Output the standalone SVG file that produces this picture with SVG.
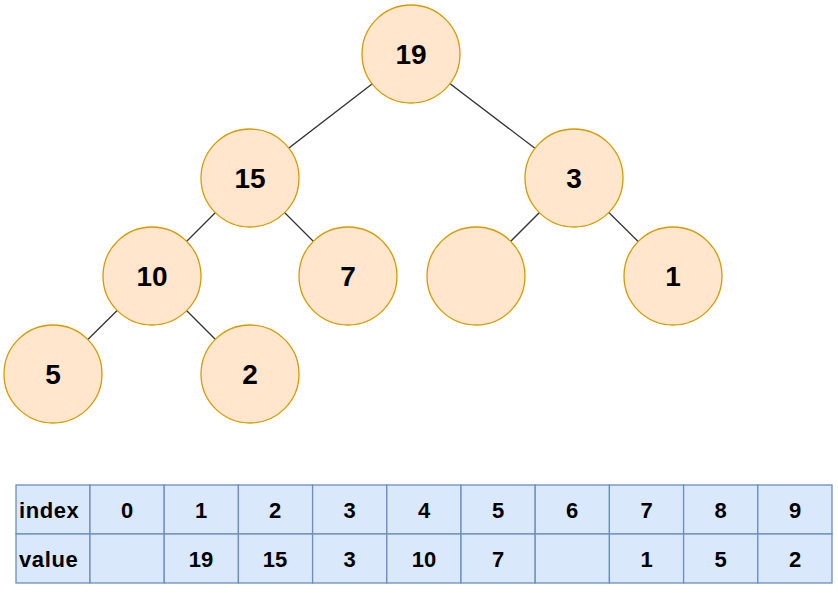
<svg xmlns="http://www.w3.org/2000/svg" width="838" height="605" viewBox="0 0 838 605">
<style>
.n circle{fill:#ffe6cc;stroke:#d79b00;stroke-width:1.3}
.n text{font-family:"Liberation Sans",Arial,sans-serif;font-weight:bold;font-size:28px;fill:#000;text-anchor:middle}
.e line{stroke:#333;stroke-width:1.3}
.t rect{fill:#dae8fc;stroke:#6c8ebf;stroke-width:1.3}
.t text{font-family:"Liberation Sans",Arial,sans-serif;font-weight:bold;font-size:22px;fill:#000;text-anchor:middle}
.t text.l{text-anchor:start;letter-spacing:0.6px}
</style>
<g id="connectors" class="e">
<line x1="411" y1="54" x2="250" y2="178"/>
<line x1="411" y1="54" x2="574" y2="178"/>
<line x1="250" y1="178" x2="152" y2="276"/>
<line x1="250" y1="178" x2="348" y2="276"/>
<line x1="574" y1="178" x2="476" y2="276"/>
<line x1="574" y1="178" x2="673" y2="276"/>
<line x1="152" y1="276" x2="53" y2="374"/>
<line x1="152" y1="276" x2="250" y2="374"/>
</g>
<g id="n19" class="n"><circle cx="411" cy="54" r="49"/><text x="411" y="64">19</text></g>
<g id="n15" class="n"><circle cx="250" cy="178" r="49"/><text x="250" y="188">15</text></g>
<g id="n3" class="n"><circle cx="574" cy="178" r="49"/><text x="574" y="188">3</text></g>
<g id="n10" class="n"><circle cx="152" cy="276" r="49"/><text x="152" y="286">10</text></g>
<g id="n7" class="n"><circle cx="348" cy="276" r="49"/><text x="348" y="286">7</text></g>
<g id="nEmpty" class="n"><circle cx="476" cy="276" r="49"/></g>
<g id="n1" class="n"><circle cx="673" cy="276" r="49"/><text x="673" y="286">1</text></g>
<g id="n5" class="n"><circle cx="53" cy="374" r="49"/><text x="53" y="384">5</text></g>
<g id="n2" class="n"><circle cx="250" cy="374" r="49"/><text x="250" y="384">2</text></g>
<g id="table" class="t">
<rect x="16" y="485" width="74" height="49"/><rect x="16" y="534" width="74" height="49"/>
<rect x="90" y="485" width="74.2" height="49"/><rect x="90" y="534" width="74.2" height="49"/>
<rect x="164.2" y="485" width="74.2" height="49"/><rect x="164.2" y="534" width="74.2" height="49"/>
<rect x="238.4" y="485" width="74.2" height="49"/><rect x="238.4" y="534" width="74.2" height="49"/>
<rect x="312.6" y="485" width="74.2" height="49"/><rect x="312.6" y="534" width="74.2" height="49"/>
<rect x="386.8" y="485" width="74.2" height="49"/><rect x="386.8" y="534" width="74.2" height="49"/>
<rect x="461" y="485" width="74.2" height="49"/><rect x="461" y="534" width="74.2" height="49"/>
<rect x="535.2" y="485" width="74.2" height="49"/><rect x="535.2" y="534" width="74.2" height="49"/>
<rect x="609.4" y="485" width="74.2" height="49"/><rect x="609.4" y="534" width="74.2" height="49"/>
<rect x="683.6" y="485" width="74.2" height="49"/><rect x="683.6" y="534" width="74.2" height="49"/>
<rect x="757.8" y="485" width="74.2" height="49"/><rect x="757.8" y="534" width="74.2" height="49"/>
<text class="l" x="19" y="518">index</text>
<text class="l" x="19" y="567">value</text>
<text x="127" y="518">0</text>
<text x="201" y="518">1</text>
<text x="275" y="518">2</text>
<text x="349.5" y="518">3</text>
<text x="424" y="518">4</text>
<text x="498" y="518">5</text>
<text x="572" y="518">6</text>
<text x="646.5" y="518">7</text>
<text x="720.5" y="518">8</text>
<text x="795" y="518">9</text>
<text x="201" y="567">19</text>
<text x="275" y="567">15</text>
<text x="349.5" y="567">3</text>
<text x="424" y="567">10</text>
<text x="498" y="567">7</text>
<text x="646.5" y="567">1</text>
<text x="720.5" y="567">5</text>
<text x="795" y="567">2</text>
</g>
</svg>
